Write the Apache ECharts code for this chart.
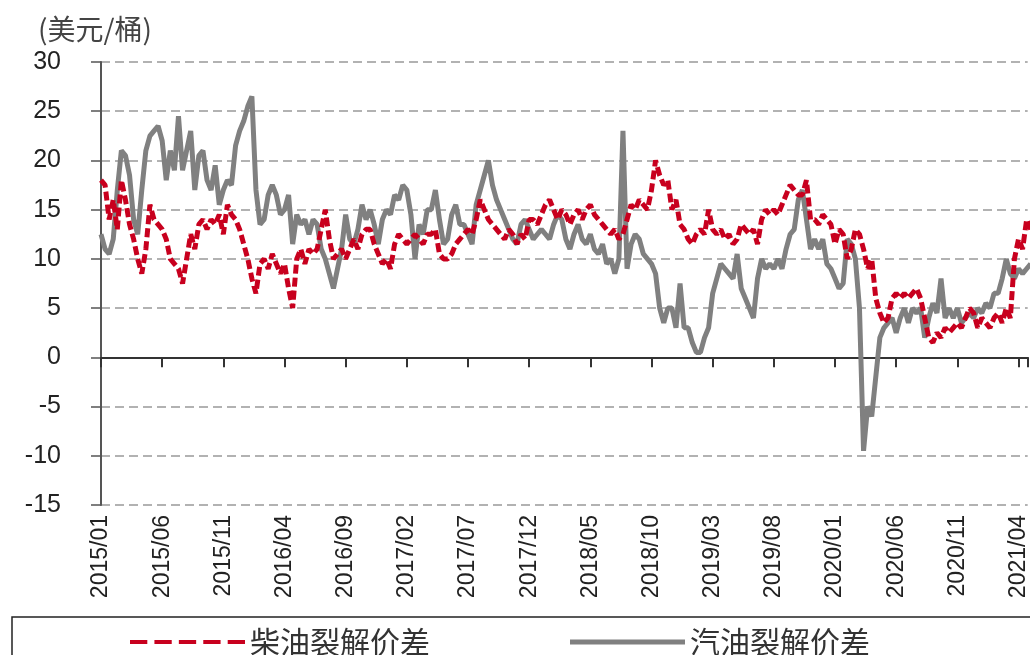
<!DOCTYPE html>
<html><head><meta charset="utf-8">
<script src="https://cdn.jsdelivr.net/npm/echarts@6/dist/echarts.min.js"></script>
<style>html,body{margin:0;padding:0;background:#fff}#c{width:1030px;height:655px}</style>
</head><body><div id="c"></div>
<script>
// Tick labels, one every 5 months starting 2015/01
const tickLabels = ['2015/01','2015/06','2015/11','2016/04','2016/09','2017/02','2017/07','2017/12',
  '2018/05','2018/10','2019/03','2019/08','2020/01','2020/06','2020/11','2021/04'];
const pointsPerMonth = 3; // about one reading every ten days
const seriesNames = ['柴油裂解价差', '汽油裂解价差'];
const unitLabel = '(美元/桶)';

// 柴油裂解价差 (USD/bbl)
const diesel = [
  18,17.5,14,16,13,18,16,13.5,12,10,8.5,11,15.5,14,13.5,13,12,10,9.5,9,7.5,10,12.5,11,13.5,14,13,14,13.5,14.5,12.5,15.5,14.5,
  14,13,11.5,10,8,6.5,9.5,10,9,10.5,9.5,8.5,9.5,7,5,10,11,9.5,11,10.5,11,13,15,12,10,10.5,11,10,11,12,11,12.5,13,
  13,11.5,10.5,9.5,10,9,11.5,12.5,12,11.5,12,12.5,12,11.5,12.5,12.5,13,10.5,10,10,10.5,11.5,12,12.5,13,12.5,14,16,15,14,13.5,13,12.5,
  12,13,12.5,11.5,12.5,12,14,14,13.5,14.5,15.5,16,15,14,15,14.5,13.5,14.5,15,14,15,15.5,14.5,14,13.5,13,12.5,13,12,12.5,14,15.5,15,
  16,15.5,15,17,20,18.5,17.5,18,15,16,13.5,13,12,11.5,12.5,13,12.5,15,13,12.5,13,12,12.5,11.5,12,13.5,13,12.5,13,11.5,14,15,14.5,
  15,14.5,15.5,16.5,17.5,17,16.5,16.5,18,14,14,13.5,14.5,14,13.5,11.5,13,12.5,10,11,13,12.5,11,9,10,6,4.5,3.5,4,6,6.5,6,6.5,
  6,6.5,7,6,4,2,1.5,2.5,2,3,2.5,3,3.5,3,4,5,4.5,3,4,3.5,3,4,4.5,3.5,5,4,10,12,11,14,13
];
// 汽油裂解价差 (USD/bbl)
const gasoline = [
  12.5,11,10.5,12,17,21,20.5,18.5,14,12.5,17,21,22.5,23,23.5,22,18,21,19,24.5,19,21,23,17,20.5,21,18,17,19.5,15.5,17,18,17.5,
  21.5,23,24,25.5,26.5,17,13.5,14,16.5,17.5,16.5,14.5,15,16.5,11.5,14.5,13.5,14,12.5,14,13.5,11,10,8.5,7,9,11,14.5,12,11.5,13,15.5,14,
  15,13.5,11.5,14,15,14.5,16.5,16,17.5,17,14.5,10,13.5,12.5,15,15,17,14,11.5,12,14.5,15.5,13.5,13.5,12.5,11.5,15.5,17,18.5,20,17.5,16,15,
  14,13,12,11.5,13.5,14,13,12,12.5,13,12.5,12,13.5,14.5,14,12,11,12.5,13.5,12,11.5,12.5,11,10.5,11.5,9.5,10,8.5,10,23,9,11.5,12.5,
  12,10.5,10,9.5,8.5,5,3.5,5,5,3,7.5,3,3,1.5,0.5,0.5,2,3,6.5,8,9.5,9,8.5,8,10.5,7,6,5,4,8,10,9,9.5,
  9,10,9,11,12.5,13,16,17,14,11,12,11,12,9.5,9,8,7,7.5,12,11.5,10,5,-9.5,-5,-6,-2,2,3,3.5,4,2.5,4,5,
  3.5,5,4.5,5,2,4,5.5,4.5,8,4,5,4,5,3.5,4,4.5,4,5,4.5,5.5,5,6.5,6.5,8,10,8.5,8,9,8.5,9,9.5
];

const toPairs = arr => arr.map((v, i) => [i / pointsPerMonth, v]);
const FONT = 'Liberation Sans, Arial, sans-serif';
const CJK = 'Noto Sans CJK SC, sans-serif';
const dashedIcon = 'path://M0,0h17v4h-17zM24,0h17v4h-17zM48,0h17v4h-17zM72,0h17v4h-17zM96,0h17v4h-17z';

const chart = echarts.init(document.getElementById('c'));
const xCommon = { type: 'value', min: 0, max: 75.75, interval: 5 };
chart.setOption({
  animation: false,
  backgroundColor: '#fff',
  grid: { left: 101, top: 62, bottom: 150, right: 0, containLabel: false },
  graphic: [
    { type: 'text', left: 38, top: 15, style: { text: unitLabel, fontSize: 28, fill: '#444', fontFamily: CJK } },
    { type: 'rect', shape: { x: 12, y: 617, width: 1100, height: 100 },
      style: { fill: 'none', stroke: '#222', lineWidth: 1.5 }, silent: true, z: 0 }
  ],
  legend: {
    type: 'plain', orient: 'horizontal',
    left: 125, top: 622, itemGap: 140, itemWidth: 115, itemHeight: 5,
    textStyle: { fontSize: 30, color: '#333', fontFamily: CJK },
    data: [
      { name: seriesNames[0], icon: dashedIcon },
      { name: seriesNames[1], icon: 'rect' }
    ]
  },
  xAxis: [
    Object.assign({}, xCommon, {
      position: 'bottom',
      axisLine: { show: false, onZero: false },
      axisTick: { show: false },
      splitLine: { show: false },
      axisLabel: {
        rotate: 90, margin: 10, fontSize: 23, color: '#222', fontFamily: FONT,
        showMaxLabel: false,
        formatter: v => (Math.abs(v / 5 - Math.round(v / 5)) < 1e-6 ? (tickLabels[Math.round(v / 5)] || '') : '')
      }
    }),
    Object.assign({}, xCommon, {
      position: 'bottom',
      axisLine: { show: true, onZero: true, lineStyle: { color: '#333', width: 2 } },
      axisTick: { show: true, length: 10, lineStyle: { color: '#333', width: 2 } },
      axisLabel: { show: false },
      splitLine: { show: false }
    })
  ],
  yAxis: {
    type: 'value', min: -15, max: 30, interval: 5,
    axisLine: { show: true, onZero: false, lineStyle: { color: '#555', width: 2 } },
    axisTick: { show: true, length: 10, lineStyle: { color: '#555', width: 1.5 } },
    axisLabel: { fontSize: 25, color: '#222', margin: 40, fontFamily: FONT },
    splitLine: { show: true, lineStyle: { color: '#999', type: [9, 5], width: 1.5 } }
  },
  series: [
    { name: seriesNames[0], type: 'line', xAxisIndex: 0, data: toPairs(diesel), symbol: 'none', z: 3,
      itemStyle: { color: '#C8001E' },
      lineStyle: { color: '#C8001E', width: 5, type: [9, 4] } },
    { name: seriesNames[1], type: 'line', xAxisIndex: 0, data: toPairs(gasoline), symbol: 'none', z: 2,
      itemStyle: { color: '#808080' },
      lineStyle: { color: '#808080', width: 5 } }
  ]
});
</script></body></html>
